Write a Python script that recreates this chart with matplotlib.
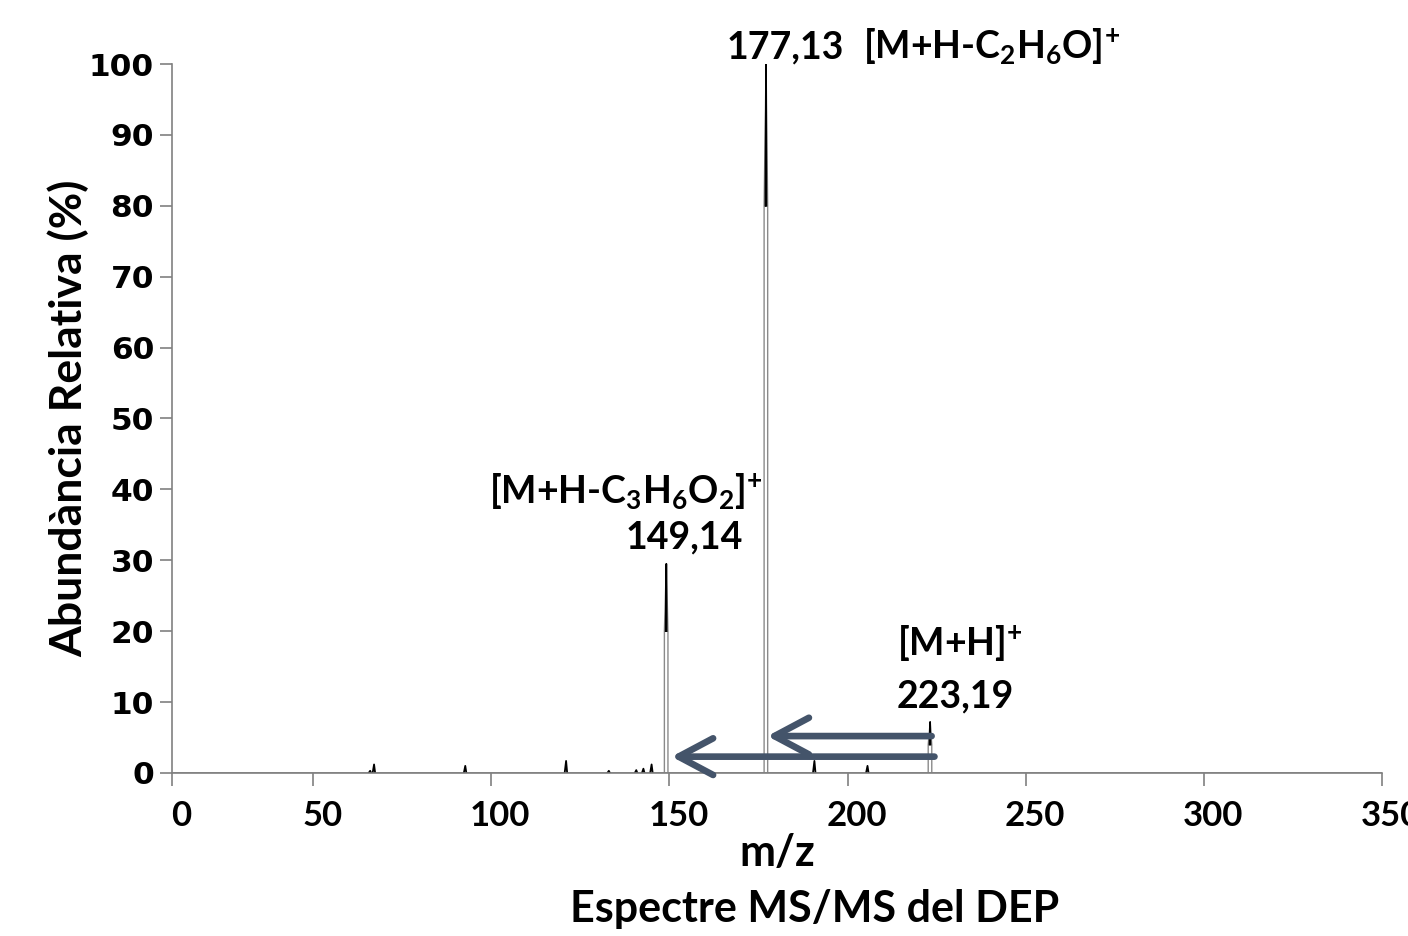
# MS/MS spectrum of DEP, relative abundance vs m/z.

import matplotlib
matplotlib.use('Agg')
import matplotlib.pyplot as plt
import matplotlib.transforms as mtrans

plt.rcParams['mathtext.fontset'] = 'custom'
plt.rcParams['mathtext.rm'] = 'Lato:bold'
plt.rcParams['mathtext.it'] = 'Lato:bold'
plt.rcParams['mathtext.bf'] = 'Lato:bold'

# peaks: centre m/z, top height (%), shoulder height (%)
peakMz = [66.0, 67.1, 92.7, 121.0, 133.0, 140.7, 142.7, 145.0, 149.14,
          177.13, 190.7, 205.6, 223.19]
peakTop = [0.3, 1.2, 1.0, 1.7, 0.3, 0.4, 0.6, 1.2, 29.5,
           100.0, 1.7, 1.0, 7.2]
peakShoulder = [0.0, 0.0, 0.0, 0.0, 0.0, 0.0, 0.0, 0.0, 20.0,
                80.0, 0.0, 0.0, 4.0]

xTicks = [10.4, 50, 100, 150, 200, 250, 300, 350]
xTickLabels = ['0', '50', '100', '150', '200', '250', '300', '350']
yTicks = [0, 10, 20, 30, 40, 50, 60, 70, 80, 90, 100]

arrowColor = '#44546a'
axisColor = '#808080'

fig = plt.figure(figsize=(14.08, 9.36), dpi=100)
ax = fig.add_axes([0.1222, 0.1742, 0.9815 - 0.1222, 0.9316 - 0.1742])

# baseline
ax.plot([10.4, 350], [0, 0], color=axisColor, lw=1.2)

# peaks
for c, h, s in zip(peakMz, peakTop, peakShoulder):
    if s > 0:
        ax.plot([c - 0.55, c - 0.55, c, c + 0.45, c + 0.45],
                [0, s, h, s, 0], color='#8a8a8a', lw=1.0)
        ax.plot([c - 0.2, c, c + 0.1], [s, h, s], color='black', lw=1.2)
    else:
        ax.plot([c - 0.4, c, c + 0.3], [0, h, 0], color='black', lw=1.3)

# arrows from the parent ion
arrowStyle = '->,head_length=0.62,head_width=0.33'
ax.annotate('', xy=(177.5, 5.2), xytext=(223.6, 5.2),
            arrowprops=dict(arrowstyle=arrowStyle, lw=4.8, color=arrowColor,
                            mutation_scale=40, shrinkA=0, shrinkB=0))
ax.annotate('', xy=(150.6, 2.3), xytext=(224.4, 2.3),
            arrowprops=dict(arrowstyle=arrowStyle, lw=4.8, color=arrowColor,
                            mutation_scale=40, shrinkA=0, shrinkB=0))

lab = dict(fontfamily='Lato', fontweight='bold', fontsize=27,
           ha='left', va='baseline', clip_on=False)
ax.text(166.0, 100.8, '177,13', **lab)
ax.text(204.2, 100.8, r'[M+H-C$_2$H$_6$O$]^{+}$', **lab)
ax.text(99.4, 38.1, r'[M+H-C$_3$H$_6$O$_2]^{+}$', **lab)
ax.text(137.6, 31.7, '149,14', **lab)
ax.text(213.8, 16.6, r'[M+H$]^{+}$', **lab)
ax.text(213.8, 9.3, '223,19', **lab)

ax.set_xlim(10.4, 350)
ax.set_ylim(0, 100)
ax.set_xticks(xTicks)
ax.set_xticklabels([])
# x tick labels sit a little to the right of their ticks
offset = mtrans.ScaledTranslation(0.09, -0.53, fig.dpi_scale_trans)
for pos, txt in zip(xTicks, xTickLabels):
    ax.text(pos, 0, txt, transform=ax.get_xaxis_transform() + offset,
            fontfamily='Lato', fontweight='bold', fontsize=25,
            ha='center', va='baseline', clip_on=False)
ax.set_yticks(yTicks)
ax.set_yticklabels([str(v) for v in yTicks], fontfamily='DejaVu Sans',
                   fontweight='bold', fontsize=22.5)

for side in ['top', 'right']:
    ax.spines[side].set_visible(False)
for side in ['left', 'bottom']:
    ax.spines[side].set_color(axisColor)
    ax.spines[side].set_linewidth(1.2)
ax.tick_params(axis='both', direction='out', color=axisColor, width=1.2,
               length=9)
ax.tick_params(axis='y', pad=4)

ax.set_ylabel('Abundància Relativa (%)', fontfamily='Lato', fontweight='bold',
              fontsize=32, labelpad=0)
fig.text(777 / 1408, 1 - 866 / 936, 'm/z', fontfamily='Lato',
         fontweight='bold', fontsize=31, ha='center', va='baseline')
fig.text(815 / 1408, 1 - 922 / 936, 'Espectre MS/MS del DEP',
         fontfamily='Lato', fontweight='bold', fontsize=31, ha='center',
         va='baseline')

fig.savefig('out.png', dpi=100)
